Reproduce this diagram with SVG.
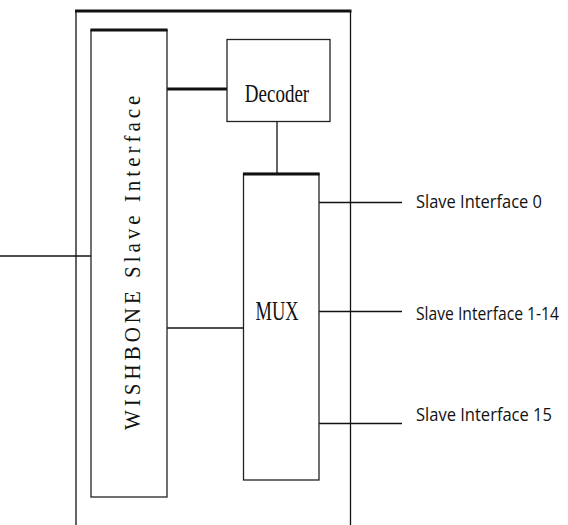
<svg xmlns="http://www.w3.org/2000/svg" width="568" height="525" viewBox="0 0 568 525">
<style>
.ln{stroke:#111;stroke-width:1.3;fill:none}
.thick{stroke:#111;stroke-width:3;fill:none}
.box{stroke:#222;stroke-width:1.3;fill:#fff}
.serif{font-family:"Liberation Serif","Times New Roman",serif;fill:#111}
.sans{font-family:"Open Sans","Liberation Sans",sans-serif;fill:#111;font-size:14px}
</style>
<rect width="568" height="525" fill="#fff"/>
<g id="outer">
<line class="ln" x1="76" y1="11" x2="76" y2="525"/>
<line class="ln" x1="350.5" y1="11" x2="350.5" y2="525"/>
<line class="thick" x1="75" y1="11" x2="351.5" y2="11"/>
</g>
<g id="connectors">
<line class="ln" x1="0" y1="256" x2="91" y2="256"/>
<line class="thick" x1="167" y1="89" x2="227" y2="89"/>
<line class="ln" x1="277" y1="122" x2="277" y2="174"/>
<line class="ln" x1="167" y1="328" x2="243" y2="328"/>
<line class="ln" x1="319" y1="202.5" x2="402" y2="202.5"/>
<line class="ln" x1="319" y1="311.5" x2="402" y2="311.5"/>
<line class="ln" x1="319" y1="423.5" x2="402" y2="423.5"/>
</g>
<g id="wishbone">
<rect class="box" x="91" y="30" width="76" height="467"/>
<line class="thick" x1="90.5" y1="30" x2="167.5" y2="30"/>
<text class="serif" font-size="21" letter-spacing="4" transform="translate(139.5,430) rotate(-90) scale(1,1.08)">WISHBONE Slave Interface</text>
</g>
<g id="decoder">
<rect class="box" x="227" y="39.5" width="103" height="82"/>
<text class="serif" font-size="19" text-anchor="middle" transform="translate(277,102) scale(1,1.3)">Decoder</text>
</g>
<g id="mux">
<rect class="box" x="243.5" y="173.5" width="75.5" height="306.5"/>
<line class="thick" x1="243" y1="174" x2="319.5" y2="174"/>
<text class="serif" font-size="19" text-anchor="middle" transform="translate(277,320) scale(1,1.4)" textLength="43" lengthAdjust="spacingAndGlyphs">MUX</text>
</g>
<g id="labels">
<text class="sans" transform="translate(416,208) scale(1,1.3)" textLength="126" lengthAdjust="spacingAndGlyphs">Slave Interface 0</text>
<text class="sans" transform="translate(416,320) scale(1,1.3)" textLength="143" lengthAdjust="spacingAndGlyphs">Slave Interface 1-14</text>
<text class="sans" transform="translate(416,421) scale(1,1.3)" textLength="136" lengthAdjust="spacingAndGlyphs">Slave Interface 15</text>
</g>
</svg>
